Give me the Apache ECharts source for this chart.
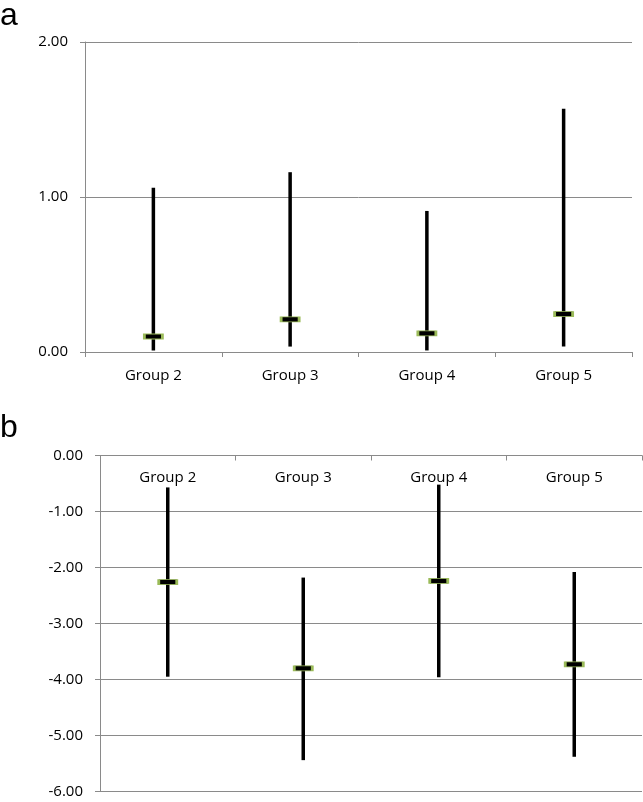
<!DOCTYPE html>
<html>
<head>
<meta charset="utf-8">
<script src="https://cdn.jsdelivr.net/npm/echarts@6/dist/echarts.min.js"></script>
<style>
html,body{margin:0;padding:0;background:#fff;}
#chart{width:643px;height:802px;}
</style>
</head>
<body>
<div id="chart"></div>
<script>
var categories = ['Group 2', 'Group 3', 'Group 4', 'Group 5'];

var aLow  = [0.01, 0.035, 0.01, 0.035];
var aHigh = [1.06, 1.16, 0.91, 1.57];
var aEst  = [0.10, 0.21, 0.12, 0.245];

var bLow  = [-3.95, -5.44, -3.96, -5.38];
var bHigh = [-0.57, -2.18, -0.52, -2.08];
var bEst  = [-2.26, -3.80, -2.24, -3.73];

var aTicks = {min: 0, max: 2, interval: 1};
var bTicks = {min: -6, max: 0, interval: 1};

var FONT = 'Open Sans';
var GRID_COLOR = '#8a8a8a';

function rangeData(lo, hi) {
  return categories.map(function (c, i) { return [i, lo[i], hi[i]]; });
}
function estData(est) {
  return categories.map(function (c, i) { return [i, est[i]]; });
}
function renderBar(params, api) {
  var x = api.value(0);
  var p1 = api.coord([x, api.value(1)]);
  var p2 = api.coord([x, api.value(2)]);
  return {
    type: 'line',
    shape: {x1: p1[0], y1: p1[1], x2: p2[0], y2: p2[1]},
    style: {stroke: '#000', lineWidth: 3.5}
  };
}
function yAxis(idx, t) {
  return {
    type: 'value', gridIndex: idx, min: t.min, max: t.max, interval: t.interval,
    axisLine: {show: true, lineStyle: {color: GRID_COLOR, width: 1}},
    axisTick: {show: true, length: 5, lineStyle: {color: GRID_COLOR}},
    splitLine: {show: true, lineStyle: {color: GRID_COLOR, width: 1}},
    axisLabel: {
      formatter: function (v) { return v.toFixed(2); },
      fontFamily: FONT, fontSize: 15, color: '#000', margin: 17
    }
  };
}

var chart = echarts.init(document.getElementById('chart'), null, {renderer: 'canvas'});
chart.setOption({
  animation: false,
  backgroundColor: '#fff',
  graphic: [
    {type: 'text', left: 0, top: 0, style: {text: 'a', font: '32px "Liberation Sans"', fill: '#000'}},
    {type: 'text', left: 0, top: 412, style: {text: 'b', font: '32px "Liberation Sans"', fill: '#000'}}
  ],
  grid: [
    {left: 85, right: 11, top: 42, bottom: 450},
    {left: 100, right: 1, top: 455.5, bottom: 10.5}
  ],
  xAxis: [
    {
      type: 'category', gridIndex: 0, data: categories, position: 'bottom',
      axisLine: {show: true, lineStyle: {color: GRID_COLOR, width: 1}},
      axisTick: {show: true, length: 5, lineStyle: {color: GRID_COLOR}},
      axisLabel: {fontFamily: FONT, fontSize: 15, color: '#000', margin: 16}
    },
    {
      type: 'category', gridIndex: 1, data: categories, position: 'top',
      axisLine: {show: true, lineStyle: {color: GRID_COLOR, width: 1}},
      axisTick: {show: true, inside: true, length: 5, lineStyle: {color: GRID_COLOR}},
      axisLabel: {inside: true, fontFamily: FONT, fontSize: 15, color: '#000', margin: 15}
    }
  ],
  yAxis: [yAxis(0, aTicks), yAxis(1, bTicks)],
  series: [
    {type: 'custom', xAxisIndex: 0, yAxisIndex: 0, renderItem: renderBar,
     data: rangeData(aLow, aHigh), encode: {x: 0, y: [1, 2]}, z: 2},
    {type: 'scatter', xAxisIndex: 0, yAxisIndex: 0, data: estData(aEst),
     symbol: 'rect', symbolSize: [18, 5],
     itemStyle: {color: '#000', borderColor: '#9bbb59', borderWidth: 1.5, opacity: 1}, z: 3},
    {type: 'custom', xAxisIndex: 1, yAxisIndex: 1, renderItem: renderBar,
     data: rangeData(bLow, bHigh), encode: {x: 0, y: [1, 2]}, z: 2},
    {type: 'scatter', xAxisIndex: 1, yAxisIndex: 1, data: estData(bEst),
     symbol: 'rect', symbolSize: [18, 5],
     itemStyle: {color: '#000', borderColor: '#9bbb59', borderWidth: 1.5, opacity: 1}, z: 3}
  ]
});
</script>
</body>
</html>
